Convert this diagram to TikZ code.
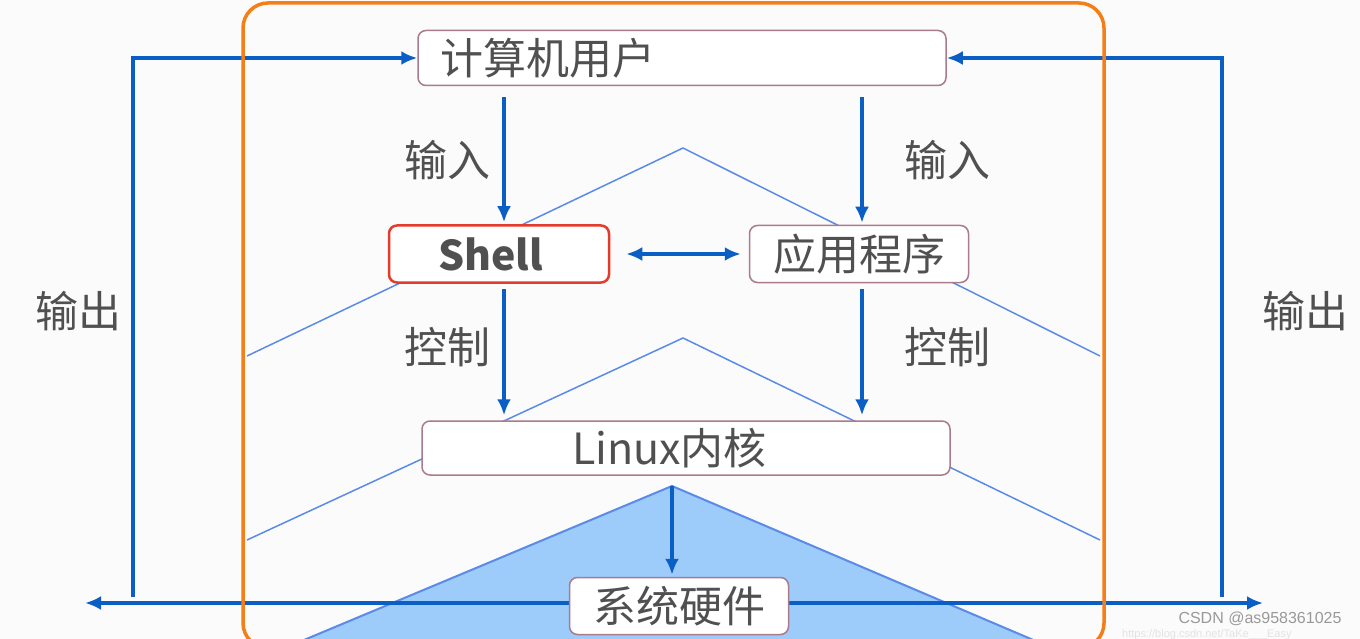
\documentclass[tikz,border=0pt]{standalone}
\usepackage{fontspec}
\setmainfont{Noto Sans CJK SC}
\newfontfamily\wmfont{Liberation Sans}
\usetikzlibrary{arrows.meta}
\definecolor{arrowblue}{HTML}{0B5FC4}
\definecolor{lineblue}{HTML}{5A8BE8}
\definecolor{fillblue}{HTML}{9DCBFA}
\definecolor{boxedge}{HTML}{A97B8C}
\definecolor{shellred}{HTML}{E43B2C}
\definecolor{frameorange}{HTML}{F57F17}
\definecolor{txt}{HTML}{505050}
\definecolor{bgcol}{HTML}{FBFBFB}
\begin{document}
\begin{tikzpicture}[x=1pt,y=-1pt,
  box/.style={draw=boxedge, line width=1.5pt, rounded corners=8pt, fill=white,
    minimum height=55pt, inner sep=0pt, font=\fontsize{43}{46}\selectfont, text=txt},
  lbl/.style={font=\fontsize{43}{46}\selectfont, text=txt, inner sep=0pt},
  arr/.style={draw=arrowblue, line width=3.8pt, -{Latex[length=16pt,width=14pt]}},
  darr/.style={draw=arrowblue, line width=3.8pt, {Latex[length=16pt,width=14pt]}-{Latex[length=16pt,width=14pt]}},
  bg/.style={draw=lineblue, line width=1.5pt},
  frame/.style={draw=frameorange, line width=3.5pt, rounded corners=25pt}]
\useasboundingbox (0,0) rectangle (1360,639);
\fill[bgcol] (0,0) rectangle (1360,639);
% background chevrons and triangle
\draw[bg] (247,356) -- (683,148) -- (1100,356);
\draw[bg] (247,540) -- (683,338) -- (1100,540);
\filldraw[fill=fillblue, draw=lineblue, line width=2pt] (292,645) -- (672,486) -- (1045,645);
% coordinates
\coordinate (lo) at (133,597);
\coordinate (ro) at (1222,597);
\coordinate (le) at (85,603);
\coordinate (re) at (1263,603);
\coordinate (in1) at (504,97);
\coordinate (in2) at (862,97);
\coordinate (c1) at (504,289);
\coordinate (c2) at (862,289);
\coordinate (k2h) at (672,486);
% bottom double arrow (behind hardware box)
\draw[darr] (le) -- (re);
% boxes
\node[box, minimum width=528pt, text width=484pt, align=left] (user) at (682,58) {计算机用户};
\node[box, draw=shellred, line width=2.5pt, minimum height=57pt, inner xsep=49pt,
      text width=122pt, align=left,
      font=\fontsize{41}{44}\selectfont\bfseries] (shell) at (499,254) {Shell};
\node[box, minimum width=219pt, minimum height=57pt] (app) at (859,254) {应用程序};
\node[box, minimum height=54pt, inner xsep=150pt, text width=228pt, align=left] (kernel) at (686,448) {Linux内核};
\node[box, minimum width=219pt, minimum height=57pt] (hw) at (679,606) {系统硬件};
% labels
\node[lbl] (i1) at (447,160) {输入};
\node[lbl] (i2) at (947,160) {输入};
\node[lbl] (k1) at (447,347) {控制};
\node[lbl] (k2) at (947,347) {控制};
\node[lbl] (o1) at (78,311) {输出};
\node[lbl] (o2) at (1305,311) {输出};
% arrows
\draw[arr] (lo) |- (user.west);
\draw[arr] (ro) |- (user.east);
\draw[arr, shorten >=2pt] (in1) -- (in1 |- shell.north);
\draw[arr, shorten >=2pt] (in2) -- (in2 |- app.north);
\draw[arr, shorten >=5pt] (c1) -- (c1 |- kernel.north);
\draw[arr, shorten >=5pt] (c2) -- (c2 |- kernel.north);
\draw[darr, shorten <=16pt, shorten >=8pt] (shell.east) -- (app.west);
\draw[arr, shorten >=2pt] (k2h) -- (k2h |- hw.north);
% frame
\draw[frame] (243,3) rectangle (1104,648);
% watermark
\node[font=\wmfont\fontsize{16}{16}\selectfont, text=gray!80, inner sep=0pt] (wm) at (1260,619) {CSDN @as958361025};
\node[font=\wmfont\fontsize{11}{11}\selectfont, text=gray!22, inner sep=0pt, anchor=west] (url) at (1122,634.5) {https://blog.csdn.net/TaKe\_\_\_Easy};
\end{tikzpicture}
\end{document}
